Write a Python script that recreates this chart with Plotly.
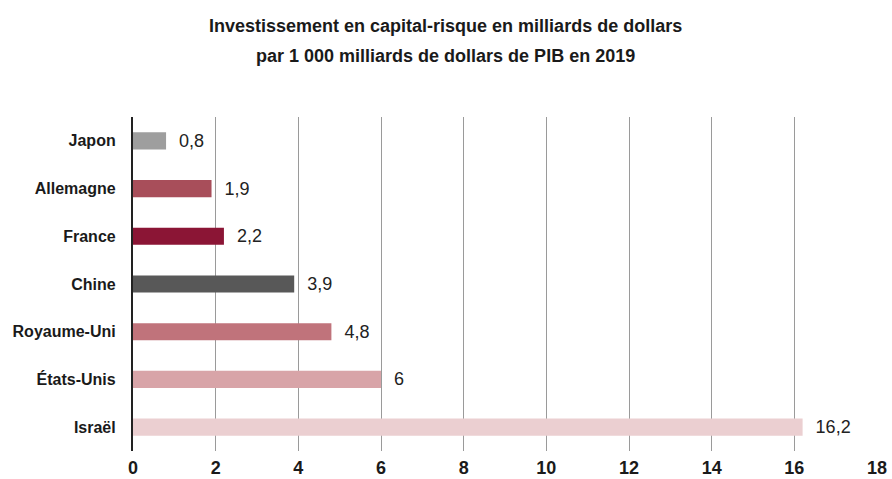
import plotly.graph_objects as go

countries = ["Japon", "Allemagne", "France", "Chine", "Royaume-Uni", "États-Unis", "Israël"]
values = [0.8, 1.9, 2.2, 3.9, 4.8, 6, 16.2]
colors = ["#9e9e9e", "#a84e5a", "#8b1535", "#585858", "#c0737b", "#d8a4a8", "#ebcfd1"]
x_ticks = [0, 2, 4, 6, 8, 10, 12, 14, 16, 18]
title_lines = ["Investissement en capital-risque en milliards de dollars",
               "par 1 000 milliards de dollars de PIB en 2019"]

labels = ["  " + (f"{v:g}".replace(".", ",")) for v in values]

font = "Liberation Sans, Arial, sans-serif"

W, H = 892, 479
L, R, T, B = 133, 15, 117, 28
plot_h = H - T - B
plot_w = W - L - R

def py(p):  # pixel from top -> paper y
    return (H - B - p) / plot_h

def px(p):  # pixel from left -> paper x
    return (p - L) / plot_w

fig = go.Figure(go.Bar(
    x=values, y=countries, orientation="h",
    marker=dict(color=colors, line=dict(width=0)),
    width=0.36,
    text=labels, textposition="outside", cliponaxis=False,
    constraintext="none",
    textfont=dict(family=font, size=18, color="#222222"),
))

for i, line in enumerate(title_lines):
    fig.add_annotation(
        text=f"<b>{line}</b>", xref="paper", yref="paper",
        x=px(445), y=py(26 + 30 * i), xanchor="center", yanchor="middle",
        showarrow=False, font=dict(family=font, size=18, color="#1a1a1a"),
    )

fig.update_layout(
    width=W, height=H,
    margin=dict(l=L, r=R, t=T, b=B, autoexpand=False),
    paper_bgcolor="white", plot_bgcolor="white",
    showlegend=False,
    bargap=0.6,
)
fig.update_xaxes(
    range=[0, 18], tickvals=x_ticks, ticktext=[f"<b>{t}</b>" for t in x_ticks],
    showgrid=True, gridcolor="#9a9a9a", gridwidth=1.3,
    zeroline=False, showline=False, automargin=False,
    tickfont=dict(family=font, size=18, color="#1a1a1a"),
    ticks="", ticklabelstandoff=4,
)
fig.update_yaxes(
    categoryorder="array", categoryarray=countries,
    range=[6.5, -0.5],
    tickvals=countries, ticktext=[f"<b>{c}</b>" for c in countries],
    showline=True, linecolor="#222222", linewidth=2.2,
    showgrid=False, zeroline=False, automargin=False,
    tickfont=dict(family=font, size=16, color="#1a1a1a"),
    ticks="", ticklabelstandoff=12,
)

fig.write_html(
    "out.html",
    config={"displayModeBar": False},
    post_script="document.body.style.margin='0';document.body.style.overflow='hidden';",
)
